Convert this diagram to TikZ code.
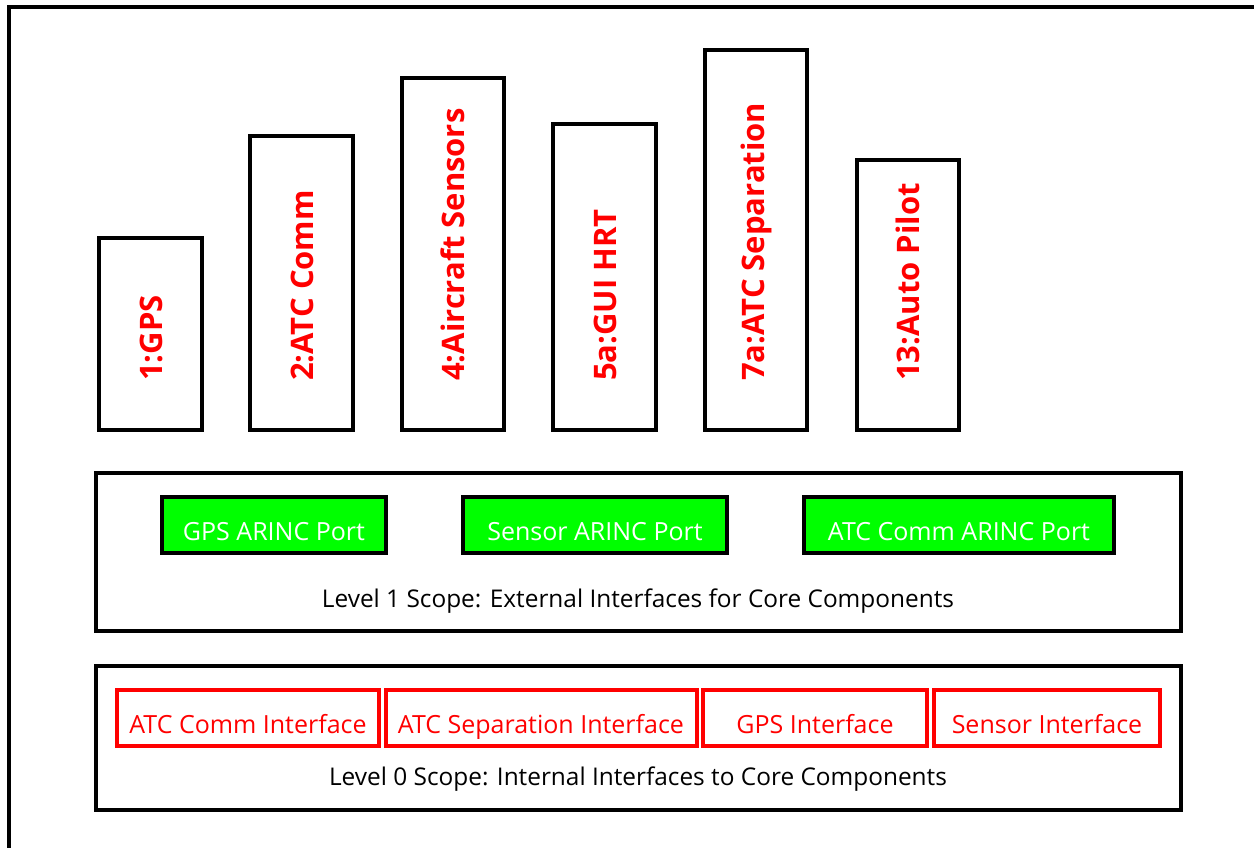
\documentclass[tikz,border=0pt]{standalone}
\usepackage{fontspec}
\setmainfont{Open Sans}
\begin{document}
\begin{tikzpicture}[x=1pt,y=-1pt,
  frame/.style={draw=black,line width=3.2pt},
  vbox/.style={draw=black,line width=3.2pt},
  vlabel/.style={text=red,font=\fontsize{31}{34}\selectfont\bfseries,rotate=90,anchor=west,inner sep=0pt},
  greenbox/.style={draw=black,line width=3.2pt,fill=green},
  greentext/.style={text=white,font=\fontsize{25}{28}\selectfont,anchor=base,inner sep=0pt},
  redbox/.style={draw=red,line width=3.2pt},
  redtext/.style={text=red,font=\fontsize{25}{28}\selectfont,anchor=base,inner sep=0pt},
  scopetext/.style={text=black,font=\fontsize{24.4}{28}\selectfont,anchor=base,inner sep=0pt}]
\useasboundingbox (0,0) rectangle (1254,847);
\fill[white] (0,0) rectangle (1254,847);
\draw[frame] (9,850) -- (9,7) -- (1257,7);
% vertical component boxes
\draw[vbox] (99,238) rectangle (202,430);
\node[vlabel] (t1) at (151,381) {1:GPS};
\draw[vbox] (250,136) rectangle (353,430);
\node[vlabel] (t2) at (302,381) {2:ATC Comm};
\draw[vbox] (402,78) rectangle (504,430);
\node[vlabel] (t4) at (453,381) {4:Aircraft Sensors};
\draw[vbox] (553,124) rectangle (656,430);
\node[vlabel] (t5) at (605,381) {5a:GUI HRT};
\draw[vbox] (705,50) rectangle (807,430);
\node[vlabel] (t7) at (756,381) {7a:ATC Separation};
\draw[vbox] (857,160) rectangle (959,430);
\node[vlabel] (t13) at (908,381) {13:Auto Pilot};
% Level 1
\draw[frame] (96,473) rectangle (1181,631);
\draw[greenbox] (162,497) rectangle (386,553);
\node[greentext] (g1) at (274,540) {GPS ARINC Port};
\draw[greenbox] (463,497) rectangle (727,553);
\node[greentext] (g2) at (595,540) {Sensor ARINC Port};
\draw[greenbox] (804,497) rectangle (1114,553);
\node[greentext] (g3) at (959,540) {ATC Comm ARINC Port};
\node[scopetext] (l1) at (638,607) {Level 1 Scope: External Interfaces for Core Components};
% Level 0
\draw[frame] (96,666) rectangle (1181,810);
\draw[redbox] (117,690) rectangle (379,746);
\node[redtext] (r1) at (248,733) {ATC Comm Interface};
\draw[redbox] (386,690) rectangle (697,746);
\node[redtext] (r2) at (541,733) {ATC Separation Interface};
\draw[redbox] (703,690) rectangle (927,746);
\node[redtext] (r3) at (815,733) {GPS Interface};
\draw[redbox] (934,690) rectangle (1160,746);
\node[redtext] (r4) at (1047,733) {Sensor Interface};
\node[scopetext] (l0) at (638,785) {Level 0 Scope: Internal Interfaces to Core Components};
\end{tikzpicture}
\end{document}
